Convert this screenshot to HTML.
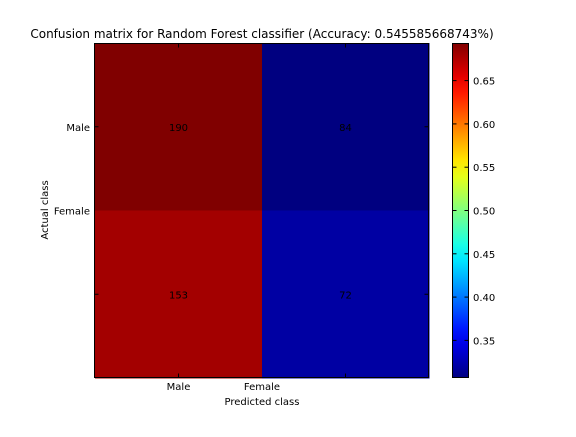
<!DOCTYPE html>
<html><head><meta charset="utf-8"><style>
html,body{margin:0;padding:0;background:#fff;}
svg text{font-family:"DejaVu Sans","Liberation Sans",sans-serif;}
</style></head><body>
<svg id="chart" width="576" height="432" viewBox="0 0 576 432" xmlns="http://www.w3.org/2000/svg">
<defs><linearGradient id="jetgrad" x1="0" y1="1" x2="0" y2="0"></linearGradient></defs>
<rect width="576" height="432" fill="#fff"/>
<text x="262" y="38" font-size="12" text-anchor="middle">Confusion matrix for Random Forest classifier (Accuracy: 0.545585668743%)</text>
<g id="cells"></g>
<rect x="94.5" y="43.5" width="334" height="334" fill="none" stroke="#000" stroke-width="1"/>
<g id="ticks"></g>
<text x="262" y="405" font-size="10" text-anchor="middle">Predicted class</text>
<text transform="translate(48,210) rotate(-90)" font-size="10" text-anchor="middle">Actual class</text>
<rect id="cbar" x="452" y="43" width="17" height="335" fill="url(#jetgrad)"/>
<rect x="452.5" y="43.5" width="16" height="334" fill="none" stroke="#000"/>
<g id="cbticks"></g>
</svg>
<script>
const rowLabels = ["Male", "Female"];
const colLabels = ["Male", "Female"];
const counts = [[190, 84], [153, 72]];
const cbarTicks = [0.35, 0.40, 0.45, 0.50, 0.55, 0.60, 0.65];
const xTickLabels = ["Male", "Female"];
const yTickLabels = ["Male", "Female"];

const NS = "http://www.w3.org/2000/svg";
const X0 = 95, Y0 = 43, W = 334, H = 335;
const nR = counts.length, nC = counts[0].length;
const cw = W / nC, ch = H / nR;
const norm = counts.map(r => { const s = r.reduce((a, b) => a + b, 0); return r.map(v => v / s); });
const flat = norm.flat();
const vmin = Math.min(...flat), vmax = Math.max(...flat);
function jet(t) {
  t = Math.max(0, Math.min(1, t));
  const c = x => Math.max(0, Math.min(1, x));
  const r = c(1.5 - Math.abs(4 * t - 3)), g = c(1.5 - Math.abs(4 * t - 2)), b = c(1.5 - Math.abs(4 * t - 1));
  return `rgb(${Math.round(r * 255)},${Math.round(g * 255)},${Math.round(b * 255)})`;
}
const xCol = j => X0 + cw * (j + 0.5);
const yRow = i => Y0 + ch * (i + 0.5);
const cbY = v => Y0 + H - (v - vmin) / (vmax - vmin) * H;
function mk(tag, attrs, parent) { const e = document.createElementNS(NS, tag); for (const k in attrs) e.setAttribute(k, attrs[k]); parent.appendChild(e); return e; }

const cells = document.getElementById("cells");
for (let i = 0; i < nR; i++) for (let j = 0; j < nC; j++) {
  const r = mk("rect", { x: X0 + cw * j, y: Y0 + ch * i, width: cw + 0.5, height: ch + 0.5, fill: jet((norm[i][j] - vmin) / (vmax - vmin)) }, cells);
  
  
  const t = mk("text", { x: xCol(j), y: yRow(i) + 4, "font-size": 10, "text-anchor": "middle" }, cells);
  t.textContent = counts[i][j];
  
  
}
const tk = document.getElementById("ticks");
for (let j = 0; j < nC; j++) {
  mk("line", { x1: xCol(j), x2: xCol(j), y1: 377.5, y2: 373.5, stroke: "#000" }, tk);
  mk("line", { x1: xCol(j), x2: xCol(j), y1: 43.5, y2: 47.5, stroke: "#000" }, tk);
  const t = mk("text", { x: X0 + cw / 2 + (cw / 2) * j, y: 390, "font-size": 10, "text-anchor": "middle" }, tk);
  t.textContent = xTickLabels[j];
  
  
}
for (let i = 0; i < nR; i++) {
  mk("line", { x1: 94.5, x2: 98.5, y1: yRow(i), y2: yRow(i), stroke: "#000" }, tk);
  mk("line", { x1: 428.5, x2: 424.5, y1: yRow(i), y2: yRow(i), stroke: "#000" }, tk);
  const t = mk("text", { x: 90, y: Y0 + ch / 2 + (ch / 2) * i + 4, "font-size": 10, "text-anchor": "end" }, tk);
  t.textContent = yTickLabels[i];
  
  
}
const grad = document.getElementById("jetgrad");
for (let k = 0; k <= 20; k++) mk("stop", { offset: k / 20, "stop-color": jet(k / 20) }, grad);
const cbt = document.getElementById("cbticks");
cbarTicks.forEach(v => {
  const y = cbY(v);
  mk("line", { x1: 468.5, x2: 464.5, y1: y, y2: y, stroke: "#000" }, cbt);
  mk("line", { x1: 452.5, x2: 456.5, y1: y, y2: y, stroke: "#000" }, cbt);
  const t = mk("text", { x: 473, y: y + 4, "font-size": 10 }, cbt);
  t.textContent = v.toFixed(2);
  
  
});
</script>
</body></html>
